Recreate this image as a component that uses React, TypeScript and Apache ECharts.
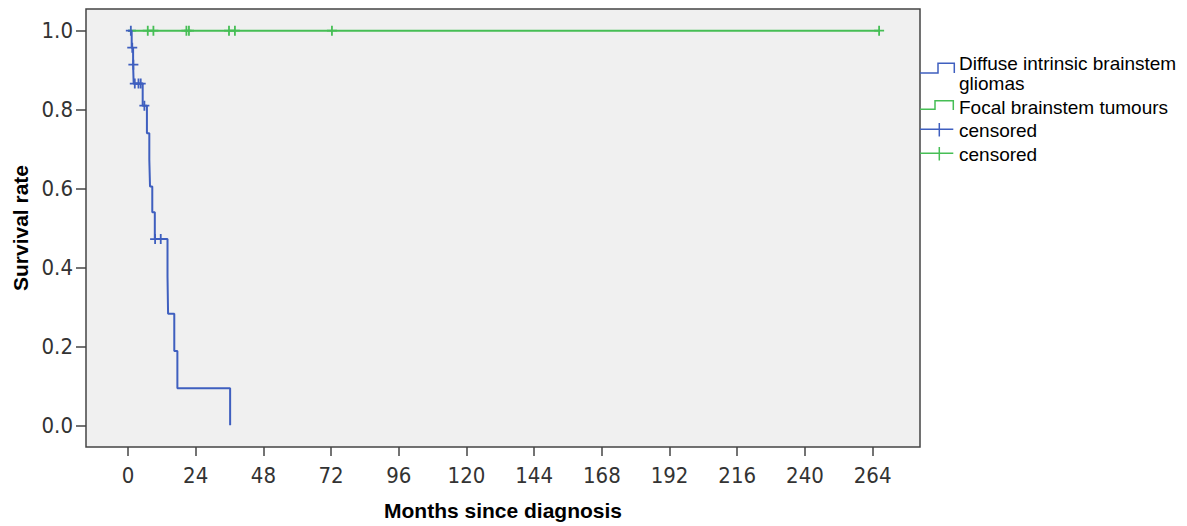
import React, { useEffect, useRef } from "react";
import * as echarts from "echarts";

const xTicks = [0, 24, 48, 72, 96, 120, 144, 168, 192, 216, 240, 264];
const yTicks = [0, 0.2, 0.4, 0.6, 0.8, 1.0];

// Diffuse intrinsic brainstem gliomas (Kaplan-Meier steps)
const dipgTimes = [0, 1.3, 1.8, 2.0, 5.2, 6.7, 7.55, 7.8, 8.6, 9.5, 14.0, 14.2, 16.4, 17.5, 36.2];
const dipgSurv = [1.0, 0.957, 0.914, 0.866, 0.81, 0.74, 0.673, 0.605, 0.54, 0.472, 0.377, 0.283, 0.188, 0.094, 0.0];
const dipgCensTimes = [1.0, 1.5, 1.9, 2.4, 3.7, 4.5, 5.8, 9.6, 11.6];
const dipgCensSurv = [1.0, 0.957, 0.914, 0.866, 0.866, 0.866, 0.81, 0.472, 0.472];

// Focal brainstem tumours
const focalTimes = [0, 266.3];
const focalSurv = [1.0, 1.0];
const focalCensTimes = [7.0, 9.0, 20.7, 21.6, 35.8, 37.9, 72.3, 266.3];
const focalCensSurv = [1.0, 1.0, 1.0, 1.0, 1.0, 1.0, 1.0, 1.0];

const BLUE = "#3F5FBF";
const GREEN = "#46BE55";
const PLUS = "path://M4.1,0 h1.8 v10 h-1.8 z M0,4.1 h10 v1.8 h-10 z";
const NARROW = '"Liberation Sans Narrow", "Arial Narrow", "DejaVu Sans Condensed", sans-serif';
const SANS = '"Liberation Sans", Arial, sans-serif';

const zip = (a: number[], b: number[]) => a.map((v, i) => [v, b[i]]);

export default function App() {
  const ref = useRef<HTMLDivElement>(null);
  useEffect(() => {
    const chart = echarts.init(ref.current!, null, { renderer: "svg" });
    const legendText = (text: string, x: number, y: number) => ({
      type: "text",
      x,
      y,
      style: { text, fontSize: 19, fontFamily: SANS, fill: "#000", align: "left", verticalAlign: "middle" },
    });
    const legendLine = (points: number[][], color: string) => ({
      type: "polyline",
      shape: { points },
      style: { stroke: color, lineWidth: 1.5, fill: "none" },
    });
    chart.setOption({
      animation: false,
      backgroundColor: "#fff",
      grid: {
        left: 86,
        right: 267,
        top: 9,
        bottom: 79,
        show: true,
        backgroundColor: "#F0F0F0",
        borderColor: "#444",
        borderWidth: 1.5,
      },
      xAxis: {
        type: "value",
        min: -14.9,
        max: 280.8,
        name: "Months since diagnosis",
        nameLocation: "middle",
        nameGap: 53,
        nameTextStyle: { fontSize: 21, fontWeight: "bold", fontFamily: SANS, color: "#000" },
        axisLine: { show: false, onZero: false },
        axisTick: { show: true, customValues: xTicks, length: 9, lineStyle: { color: "#444", width: 1.5 } },
        axisLabel: {
          customValues: xTicks,
          margin: 17,
          fontSize: 22,
          fontFamily: NARROW,
          color: "#333",
        },
        splitLine: { show: false },
      },
      yAxis: {
        type: "value",
        min: -0.055,
        max: 1.055,
        name: "Survival rate",
        nameLocation: "middle",
        nameGap: 53,
        nameTextStyle: { fontSize: 21, fontWeight: "bold", fontFamily: SANS, color: "#000" },
        axisLine: { show: false, onZero: false },
        axisTick: { show: true, customValues: yTicks, length: 10, lineStyle: { color: "#444", width: 1.5 } },
        axisLabel: {
          customValues: yTicks,
          margin: 13,
          fontSize: 22,
          fontFamily: NARROW,
          color: "#333",
          formatter: (v: number) => v.toFixed(1),
        },
        splitLine: { show: false },
      },
      series: [
        {
          name: "Focal brainstem tumours",
          type: "line",
          step: "end",
          data: zip(focalTimes, focalSurv),
          showSymbol: false,
          symbol: "none",
          lineStyle: { color: GREEN, width: 2 },
        },
        {
          name: "censored focal",
          type: "scatter",
          data: zip(focalCensTimes, focalCensSurv),
          symbol: PLUS,
          symbolSize: 10,
          itemStyle: { color: GREEN, opacity: 1 },
        },
        {
          name: "Diffuse intrinsic brainstem gliomas",
          type: "line",
          step: "end",
          data: zip(dipgTimes, dipgSurv),
          showSymbol: false,
          symbol: "none",
          lineStyle: { color: BLUE, width: 2 },
        },
        {
          name: "censored dipg",
          type: "scatter",
          data: zip(dipgCensTimes, dipgCensSurv),
          symbol: PLUS,
          symbolSize: 10,
          itemStyle: { color: BLUE, opacity: 1 },
        },
      ],
      graphic: [
        legendLine([[920, 73], [938, 73], [938, 63.3], [954.3, 63.3], [954.3, 73]], BLUE),
        legendText("Diffuse intrinsic brainstem", 959, 63.5),
        legendText("gliomas", 959, 83),
        legendLine([[920, 109.3], [935, 109.3], [935, 100.7], [953.3, 100.7], [953.3, 110]], GREEN),
        legendText("Focal brainstem tumours", 959, 107.5),
        legendLine([[920, 129.3], [953.3, 129.3]], BLUE),
        legendLine([[939.3, 123], [939.3, 136.5]], BLUE),
        legendText("censored", 959, 130),
        legendLine([[920, 153.3], [953.3, 153.3]], GREEN),
        legendLine([[939.3, 147], [939.3, 160.5]], GREEN),
        legendText("censored", 959, 154),
      ],
    });
    return () => chart.dispose();
  }, []);
  return <div ref={ref} style={{ position: "fixed", left: 0, top: 0, width: 1187, height: 526 }} />;
}
